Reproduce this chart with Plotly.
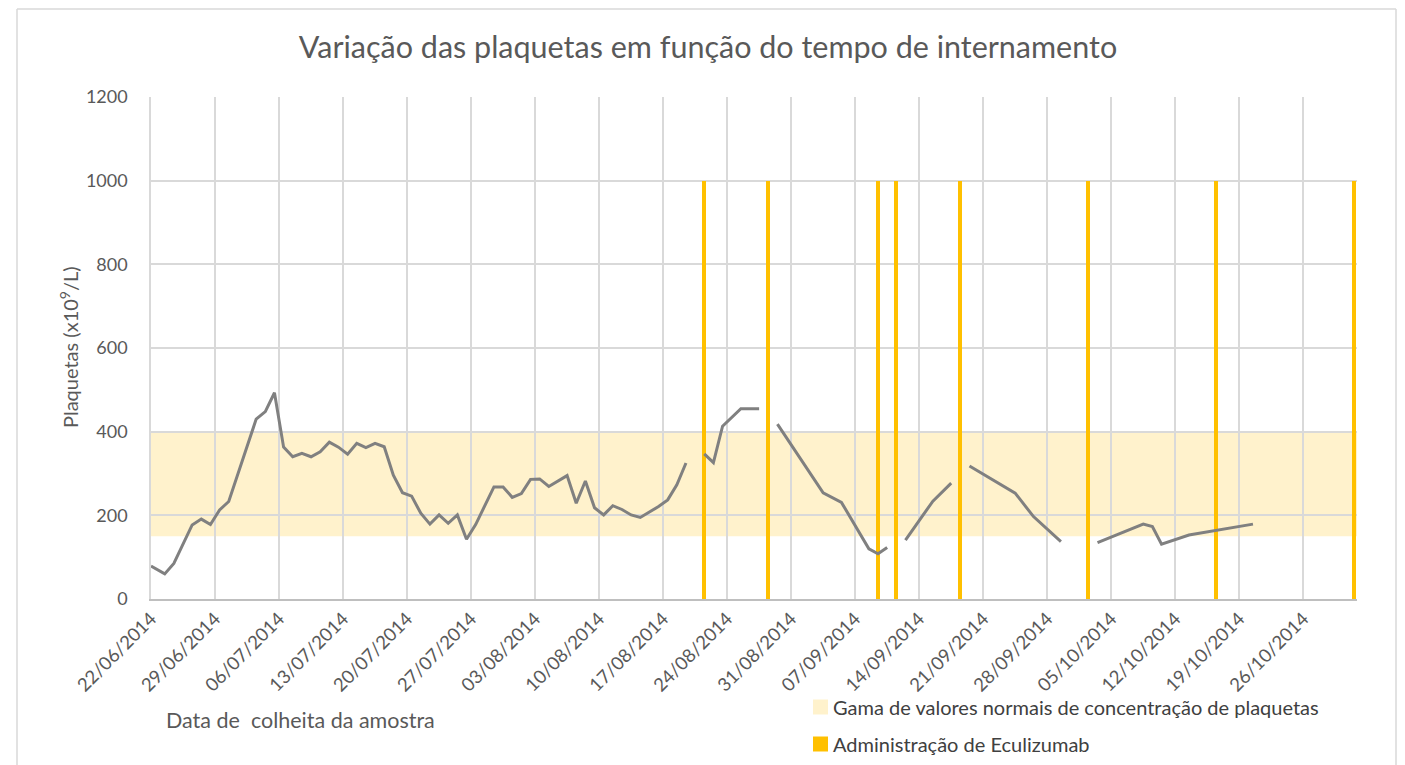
import plotly.graph_objects as go

# ---------------- data ----------------
sample_dates = [
    "2014-06-22 00:00", "2014-06-23 12:00", "2014-06-24 12:00", "2014-06-25 12:00", "2014-06-26 12:00",
    "2014-06-27 12:00", "2014-06-28 12:00", "2014-06-29 12:00", "2014-06-30 12:00", "2014-07-03 12:00",
    "2014-07-04 12:00", "2014-07-05 12:00", "2014-07-06 12:00", "2014-07-07 12:00", "2014-07-08 12:00",
    "2014-07-09 12:00", "2014-07-10 12:00", "2014-07-11 12:00", "2014-07-12 12:00", "2014-07-13 12:00",
    "2014-07-14 12:00", "2014-07-15 12:00", "2014-07-16 12:00", "2014-07-17 12:00", "2014-07-18 12:00",
    "2014-07-19 12:00", "2014-07-20 12:00", "2014-07-21 12:00", "2014-07-22 12:00", "2014-07-23 12:00",
    "2014-07-24 12:00", "2014-07-25 12:00", "2014-07-26 12:00", "2014-07-27 12:00", "2014-07-29 12:00",
    "2014-07-30 12:00", "2014-07-31 12:00", "2014-08-01 12:00", "2014-08-02 12:00", "2014-08-03 12:00",
    "2014-08-04 12:00", "2014-08-06 12:00", "2014-08-07 12:00", "2014-08-08 12:00", "2014-08-09 12:00",
    "2014-08-10 12:00", "2014-08-11 12:00", "2014-08-12 12:00", "2014-08-13 12:00", "2014-08-14 12:00",
    "2014-08-15 12:00", "2014-08-16 12:00", "2014-08-17 12:00", "2014-08-18 12:00", "2014-08-19 12:00",
    "2014-08-20 12:00",
    "2014-08-21 12:00", "2014-08-22 12:00", "2014-08-23 12:00", "2014-08-24 12:00", "2014-08-25 12:00",
    "2014-08-27 12:00",
    "2014-08-28 12:00",
    "2014-08-29 12:00", "2014-09-03 12:00", "2014-09-05 12:00", "2014-09-08 12:00", "2014-09-09 12:00",
    "2014-09-10 12:00",
    "2014-09-11 12:00",
    "2014-09-12 12:00", "2014-09-15 12:00", "2014-09-17 12:00",
    "2014-09-18 12:00",
    "2014-09-19 12:00", "2014-09-24 12:00", "2014-09-26 12:00", "2014-09-29 12:00",
    "2014-10-01 12:00",
    "2014-10-03 12:00", "2014-10-08 12:00", "2014-10-09 12:00", "2014-10-10 12:00", "2014-10-13 12:00",
    "2014-10-20 12:00",
]
platelets = [
    79, 60, 85, 133, 177,
    191, 178, 213, 233, 430,
    448, 493, 363, 340, 348,
    340, 352, 375, 363, 346,
    372, 362, 372, 364, 296,
    254, 246, 205, 179, 201,
    181, 201, 143, 178, 268,
    268, 243, 252, 286, 287,
    269, 295, 229, 282, 218,
    201, 223, 214, 201, 195,
    207, 221, 237, 273, 325,
    None,
    347, 326, 413, 433, 455,
    455,
    None,
    418, 254, 231, 120, 108,
    123,
    None,
    141, 234, 277,
    None,
    318, 253, 197, 137,
    None,
    135, 179, 173, 131, 153,
    179,
]

eculizumab_dates = ["2014-08-21 12:00", "2014-08-28 12:00", "2014-09-09 12:00", "2014-09-11 12:00",
                    "2014-09-18 12:00", "2014-10-02 12:00", "2014-10-16 12:00", "2014-10-31 12:00"]
eculizumab_marker = [1000] * len(eculizumab_dates)

normal_low, normal_high = 150, 400
x_start, x_end = "2014-06-22 00:00", "2014-10-31 21:00"
y_ticks = [0, 200, 400, 600, 800, 1000, 1200]

title_text = "Variação das plaquetas em função do tempo de internamento"
y_title = "Plaquetas (x10<sup>9</sup>/L)"
x_title = "Data de  colheita da amostra"
legend_band = "Gama de valores normais de concentração de plaquetas"
legend_ecu = "Administração de Eculizumab"

# ---------------- styling ----------------
FONT = "Lato, 'Open Sans', sans-serif"
TXT = "#595959"
GRID = "#D9D9D9"
BAND = "#FFF2CC"
GOLD = "#FFC000"
LINE = "#808080"

# page is shown with an 8px body margin: work in page pixels, convert to figure
OFF = 8
W, H = 1405 - OFF, 765 - OFF
l, r, t, b = 151 - OFF, 1405 - 1357, 97 - OFF, H - (599 - OFF)
pw, ph = W - l - r, H - t - b


def px(xp):
    return (xp - OFF - l) / pw


def py(yp):
    return (H - b - (yp - OFF)) / ph


fig = go.Figure()

fig.add_trace(go.Scatter(
    x=sample_dates, y=platelets, mode="lines",
    line=dict(color=LINE, width=3), connectgaps=False,
    showlegend=False, hoverinfo="x+y", name="Plaquetas",
))

fig.add_trace(go.Bar(
    x=eculizumab_dates, y=eculizumab_marker, name=legend_ecu,
    marker=dict(color=GOLD, line=dict(width=0)),
    width=0.44 * 86400000, showlegend=False,
))

# normal range band
fig.add_shape(type="rect", xref="paper", yref="y", x0=0, x1=1,
              y0=normal_low, y1=normal_high, fillcolor=BAND, line_width=0, layer="below")

# chart frame (outer border)
frame = dict(color="#D9D9D9", width=1.5)
fig.add_shape(type="line", xref="paper", yref="paper", x0=px(17), x1=px(17), y0=py(9), y1=py(770), line=frame)
fig.add_shape(type="line", xref="paper", yref="paper", x0=px(17), x1=px(1396), y0=py(9), y1=py(9), line=frame)
fig.add_shape(type="line", xref="paper", yref="paper", x0=px(1396), x1=px(1396), y0=py(9), y1=py(770), line=frame)
fig.add_shape(type="line", xref="paper", yref="paper", x0=px(3), x1=px(3), y0=py(0), y1=py(770), line=frame)

# manual legend (squares + labels)
for label, color, yc in [(legend_band, BAND, 707), (legend_ecu, GOLD, 744)]:
    fig.add_shape(type="rect", xref="paper", yref="paper",
                  x0=px(813), x1=px(828), y0=py(yc - 7.5), y1=py(yc + 7.5),
                  fillcolor=color, line_width=0)
    fig.add_annotation(text=label, xref="paper", yref="paper", x=px(831), y=py(yc),
                       xanchor="left", yanchor="middle", showarrow=False,
                       font=dict(family=FONT, size=20, color="#404040"))

fig.add_annotation(text=x_title, xref="paper", yref="paper",
                   x=px(164), y=py(720), xanchor="left", yanchor="middle", showarrow=False,
                   font=dict(family=FONT, size=21.5, color=TXT))

fig.add_annotation(text=y_title, xref="paper", yref="paper", textangle=-90,
                   x=px(69), y=py(347), xanchor="center", yanchor="middle", showarrow=False,
                   font=dict(family=FONT, size=20, color=TXT))

fig.update_layout(
    width=W, height=H,
    margin=dict(l=l, r=r, t=t, b=b, autoexpand=False),
    paper_bgcolor="white", plot_bgcolor="rgba(0,0,0,0)",
    bargap=0, showlegend=False,
    title=dict(text=title_text, xref="container", yref="container",
               x=(708 - OFF) / W, xanchor="center", y=1 - (47 - OFF) / H, yanchor="middle",
               font=dict(family=FONT, size=30.5, color=TXT)),
    font=dict(family=FONT, color=TXT),
    xaxis=dict(
        type="date", range=[x_start, x_end],
        tick0="2014-06-22", dtick=7 * 86400000, tickformat="%d/%m/%Y",
        tickangle=-45, tickfont=dict(family=FONT, size=18.5, color=TXT),
        showgrid=True, gridcolor=GRID, gridwidth=1.5,
        showline=True, linecolor="#BFBFBF", linewidth=1.5,
        ticks="", zeroline=False, automargin=False,
    ),
    yaxis=dict(
        range=[0, 1200], tickvals=y_ticks,
        tickfont=dict(family=FONT, size=18, color=TXT),
        showgrid=True, gridcolor=GRID, gridwidth=1.5,
        showline=True, linecolor=GRID, linewidth=1.5,
        ticks="", zeroline=False, ticklabelstandoff=18, automargin=False,
    ),
)

fig.write_html("out.html")
